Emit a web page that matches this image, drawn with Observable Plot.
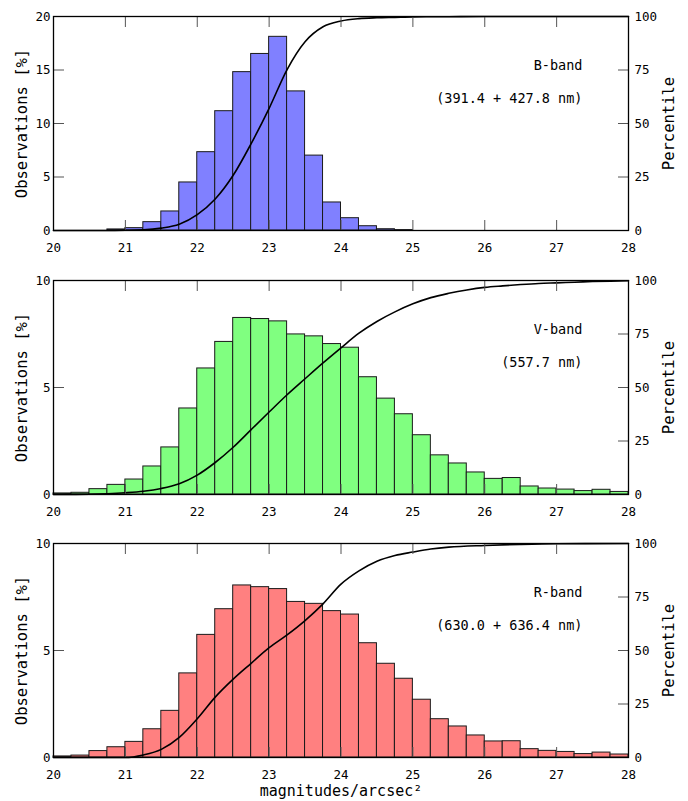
<!DOCTYPE html>
<html>
<head>
<meta charset="utf-8">
<script src="https://cdn.jsdelivr.net/npm/d3@7"></script>
<script src="https://cdn.jsdelivr.net/npm/@observablehq/plot@0.6"></script>
<style>
  body { margin: 0; background: #fff; }
  #chart svg { display: block; }
</style>
</head>
<body>
<div id="chart"></div>
<script>
// Sky-brightness histograms (0.25 mag bins) with cumulative percentile curves.
const binStart = [20, 20.25, 20.5, 20.75, 21, 21.25, 21.5, 21.75, 22, 22.25, 22.5, 22.75,
  23, 23.25, 23.5, 23.75, 24, 24.25, 24.5, 24.75, 25, 25.25, 25.5, 25.75,
  26, 26.25, 26.5, 26.75, 27, 27.25, 27.5, 27.75];
const binWidth = 0.25;

// Observations [%] per bin
const obsB = [0, 0, 0, 0.1, 0.22, 0.78, 1.78, 4.49, 7.32, 11.15, 14.8, 16.5,
  18.1, 13.0, 7.0, 2.62, 1.15, 0.4, 0.12, 0.04, 0, 0, 0, 0,
  0, 0, 0, 0, 0, 0, 0, 0];
const obsV = [0.05, 0.08, 0.25, 0.45, 0.7, 1.31, 2.2, 4.02, 5.89, 7.13, 8.25, 8.2,
  8.09, 7.48, 7.39, 7.03, 6.86, 5.48, 4.48, 3.75, 2.77, 1.83, 1.45, 1.03,
  0.73, 0.77, 0.375, 0.28, 0.23, 0.16, 0.22, 0.12];
const obsR = [0.05, 0.09, 0.3, 0.48, 0.73, 1.32, 2.18, 3.93, 5.73, 6.93, 8.04, 7.96,
  7.87, 7.27, 7.18, 6.84, 6.68, 5.34, 4.38, 3.68, 2.7, 1.79, 1.45, 1.03,
  0.75, 0.76, 0.39, 0.31, 0.26, 0.16, 0.23, 0.14];

// Cumulative percentile curves
const pctMagB = [20, 20.75, 21, 21.25, 21.5, 21.75, 22, 22.25, 22.5, 22.75, 23, 23.25,
  23.5, 23.75, 24, 24.25, 24.5, 24.75, 25, 25.5, 26, 27, 28];
const pctB = [0, 0, 0.1, 0.3, 1.1, 2.9, 7.4, 14.7, 25.8, 40.6, 57.1, 75.2,
  88.2, 95.2, 97.9, 99.0, 99.4, 99.6, 99.8, 99.9, 100, 100, 100];
const pctMagV = [20, 20.25, 20.5, 20.75, 21, 21.25, 21.5, 21.75, 22, 22.25, 22.5, 22.75,
  23, 23.25, 23.5, 23.75, 24, 24.25, 24.5, 24.75, 25, 25.25, 25.5, 25.75,
  26, 26.25, 26.5, 26.75, 27, 27.25, 27.5, 27.75, 28];
const pctV = [0, 0.05, 0.13, 0.38, 0.83, 1.53, 2.84, 5.04, 9.06, 14.95, 22.08, 30.33,
  38.53, 46.62, 54.1, 61.49, 68.52, 75.38, 80.86, 85.34, 89.09, 92.0, 94.0, 95.6,
  96.8, 97.5, 98.1, 98.6, 98.9, 99.2, 99.5, 99.7, 99.9];
const pctMagR = [20, 21, 21.25, 21.5, 21.75, 22, 22.25, 22.5, 22.75, 23, 23.25, 23.5,
  23.75, 24, 24.25, 24.5, 24.75, 25, 25.25, 25.5, 26, 26.5, 27, 28];
const pctR = [0, 0, 1.2, 3.8, 9.4, 18.1, 28.2, 36.6, 44, 51.3, 57.3, 64,
  71.8, 81, 87.2, 91.7, 94.4, 96, 97.4, 98.3, 99.1, 99.6, 99.9, 100];

// Tick values and labels
const xTicks = [20, 21, 22, 23, 24, 25, 26, 27, 28];
const obsTicksB = [0, 5, 10, 15, 20];
const obsTicksVR = [0, 5, 10];
const pctTicks = [0, 25, 50, 75, 100];

const bandNames = ["B-band", "V-band", "R-band"];
const bandWavelengths = ["(391.4 + 427.8 nm)", "(557.7 nm)", "(630.0 + 636.4 nm)"];
const bandFills = ["#8080ff", "#80ff80", "#ff8080"];
const yTitle = "Observations [%]";
const y2Title = "Percentile";
const xTitle = "magnitudes/arcsec²";

const FONT = "DejaVu Sans Mono";

function panel({obs, pctMag, pct, yMax, obsTicks, fill, name, wavelength, marginTop, marginBottom, showXTitle}) {
  const bars = binStart.map((x, i) => ({x1: x, x2: x + binWidth, y: obs[i]})).filter(d => d.y > 0);
  const curve = pctMag.map((x, i) => ({x, p: pct[i]}));
  const innerH = 214;
  const label = {fontFamily: FONT, fill: "#000", lineAnchor: "middle"};
  return Plot.plot({
    width: 688,
    height: marginTop + innerH + marginBottom,
    marginTop,
    marginBottom,
    marginLeft: 53,
    marginRight: 60,
    style: {fontFamily: FONT, fontSize: "12.5px", color: "#000", background: "#fff"},
    x: {domain: [20, 28]},
    y: {domain: [0, yMax]},
    marks: [
      Plot.rectY(bars, {x1: "x1", x2: "x2", y: "y", fill, stroke: "#1a1a1a", strokeWidth: 1}),
      Plot.line(curve, {x: "x", y: d => d.p * yMax / 100, stroke: "#000", strokeWidth: 1.6, curve: "monotone-x"}),
      Plot.axisX(xTicks, {anchor: "bottom", tickSize: -10, tickPadding: 23, stroke: "#555", tickFormat: d => d, label: null, fill: "#000"}),
      Plot.axisX(xTicks, {anchor: "top", tickSize: -10, tickFormat: () => "", stroke: "#555", label: null}),
      Plot.axisY(obsTicks, {anchor: "left", tickSize: -11, tickPadding: 14, stroke: "#555", tickFormat: d => d, label: null, fill: "#000"}),
      Plot.axisY(pctTicks.map(p => p * yMax / 100), {anchor: "right", tickSize: -11, tickPadding: 17, stroke: "#555",
        tickFormat: v => Math.round(v * 100 / yMax), label: null, fill: "#000"}),
      Plot.frame({stroke: "#000", strokeWidth: 1.3}),
      Plot.text([name], {...label, frameAnchor: "top-right", dx: -46, dy: 49, textAnchor: "end", fontSize: 13.5}),
      Plot.text([wavelength], {...label, frameAnchor: "top-right", dx: -46, dy: 82, textAnchor: "end", fontSize: 13.5}),
      Plot.text([yTitle], {...label, frameAnchor: "left", dx: -31.5, rotate: -90, textAnchor: "middle", fontSize: 15.5}),
      Plot.text([y2Title], {...label, frameAnchor: "right", dx: 41, rotate: -90, textAnchor: "middle", fontSize: 15.5}),
      showXTitle ? Plot.text([xTitle], {...label, frameAnchor: "bottom", dy: 34, textAnchor: "middle", fontSize: 15}) : null
    ]
  });
}

const root = document.getElementById("chart");
root.append(panel({obs: obsB, pctMag: pctMagB, pct: pctB, yMax: 20, obsTicks: obsTicksB, fill: bandFills[0],
  name: bandNames[0], wavelength: bandWavelengths[0], marginTop: 16, marginBottom: 33, showXTitle: false}));
root.append(panel({obs: obsV, pctMag: pctMagV, pct: pctV, yMax: 10, obsTicks: obsTicksVR, fill: bandFills[1],
  name: bandNames[1], wavelength: bandWavelengths[1], marginTop: 17, marginBottom: 32, showXTitle: false}));
root.append(panel({obs: obsR, pctMag: pctMagR, pct: pctR, yMax: 10, obsTicks: obsTicksVR, fill: bandFills[2],
  name: bandNames[2], wavelength: bandWavelengths[2], marginTop: 17, marginBottom: 44, showXTitle: true}));
</script>
</body>
</html>
